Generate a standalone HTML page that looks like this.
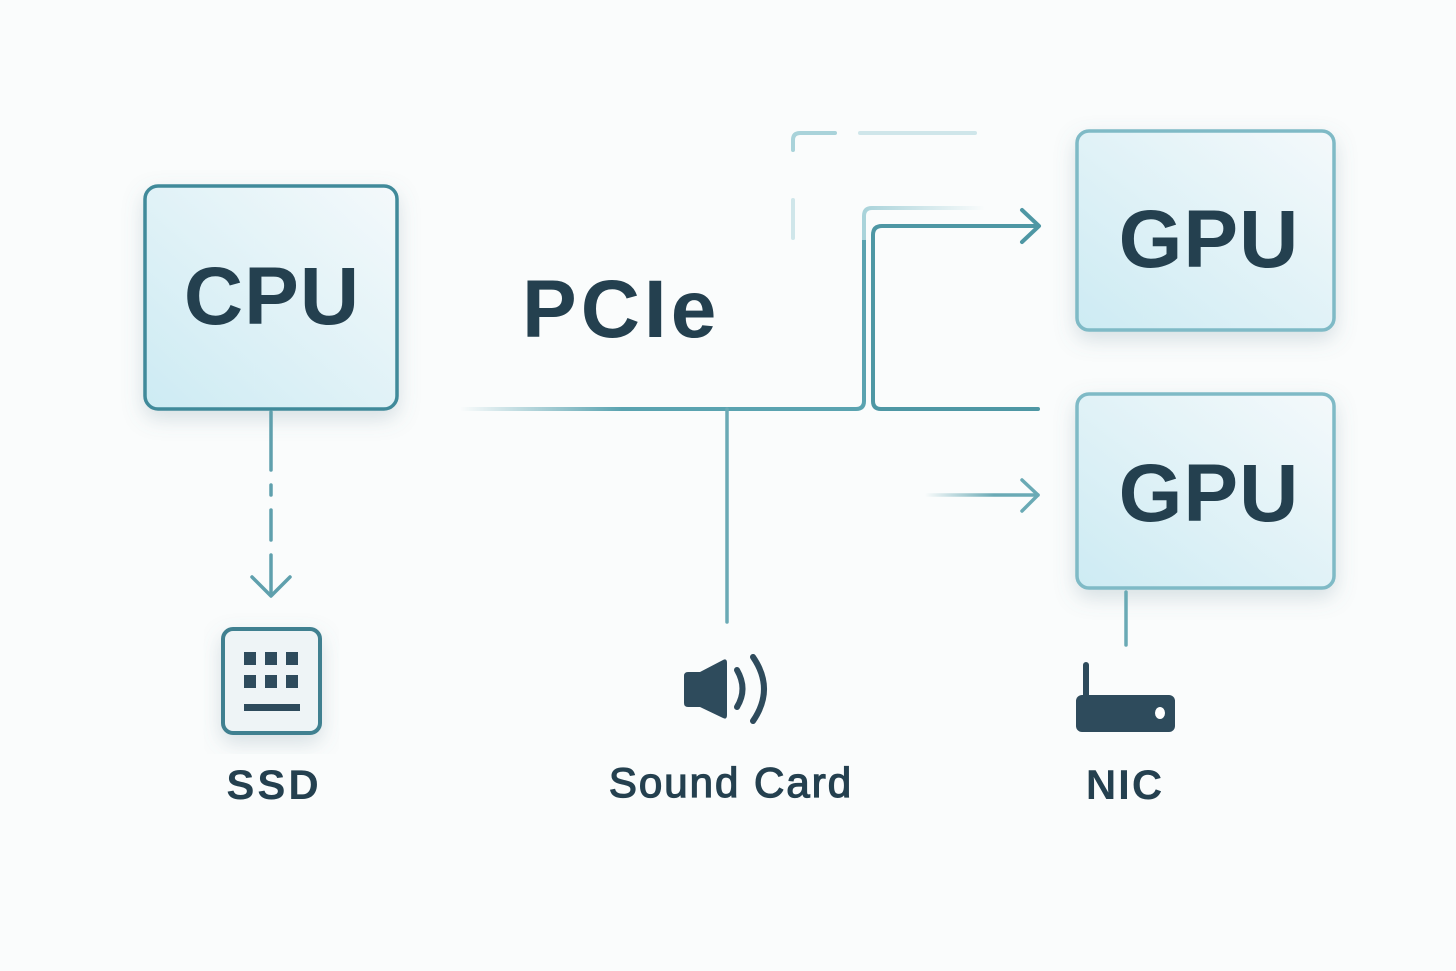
<!DOCTYPE html>
<html><head><meta charset="utf-8"><style>
html,body{margin:0;padding:0;background:#fafcfc;}
svg{display:block;}
text{font-family:"Liberation Sans",sans-serif;font-weight:bold;fill:#24404f;}
</style></head><body>
<svg width="1456" height="971" viewBox="0 0 1456 971" xmlns="http://www.w3.org/2000/svg">
<defs>
<linearGradient id="g" x1="1" y1="0" x2="0" y2="1">
<stop offset="0" stop-color="#f4f9fb"/><stop offset="1" stop-color="#cdebf3"/></linearGradient>
<linearGradient id="fade" gradientUnits="userSpaceOnUse" x1="460" y1="0" x2="1000" y2="0">
<stop offset="0" stop-color="#5aa3b0" stop-opacity="0"/><stop offset="0.3" stop-color="#5aa3b0"/><stop offset="1" stop-color="#5aa3b0"/></linearGradient>
<linearGradient id="fadeA" gradientUnits="userSpaceOnUse" x1="925" y1="0" x2="1040" y2="0">
<stop offset="0" stop-color="#6aaab5" stop-opacity="0"/><stop offset="0.6" stop-color="#6aaab5"/><stop offset="1" stop-color="#6aaab5"/></linearGradient>
<linearGradient id="fade2" gradientUnits="userSpaceOnUse" x1="864" y1="0" x2="985" y2="0">
<stop offset="0" stop-color="#a9d3da"/><stop offset="1" stop-color="#a9d3da" stop-opacity="0"/></linearGradient>
<filter id="sh" x="-20%" y="-20%" width="140%" height="140%"><feDropShadow dx="0" dy="8" stdDeviation="10" flood-color="#6a8a99" flood-opacity="0.25"/></filter>
</defs>
<rect width="1456" height="971" fill="#fafcfc"/>
<rect x="145" y="186" width="252" height="223" rx="13" fill="url(#g)" stroke="#3f8a9a" stroke-width="3.5" filter="url(#sh)"/>
<text x="272" y="324" font-size="82" text-anchor="middle" letter-spacing="1">CPU</text>
<rect x="1077" y="131" width="257" height="199" rx="12" fill="url(#g)" stroke="#7fbac6" stroke-width="3.5" filter="url(#sh)"/>
<text x="1209" y="267" font-size="82" text-anchor="middle" letter-spacing="1">GPU</text>
<rect x="1077" y="394" width="257" height="194" rx="12" fill="url(#g)" stroke="#7fbac6" stroke-width="3.5" filter="url(#sh)"/>
<text x="1209" y="521" font-size="82" text-anchor="middle" letter-spacing="1">GPU</text>
<text x="522" y="337" font-size="82" letter-spacing="4">PCIe</text>
<path d="M460 409 H856 Q864 409 864 401 V240" fill="none" stroke="url(#fade)" stroke-width="4" stroke-linecap="round"/>
<path d="M864 240 V216 Q864 208 872 208 H985" fill="none" stroke="url(#fade2)" stroke-width="4"/>
<path d="M1038 409 H881 Q873 409 873 401 V235 Q873 226 882 226 H1038 M1022 210 L1039 226 L1022 242" fill="none" stroke="#4e97a4" stroke-width="4" stroke-linecap="round" stroke-linejoin="round"/>
<path d="M727 409 V622" stroke="#6aaab5" stroke-width="3.5" stroke-linecap="round"/>
<path d="M793 150 V140 Q793 133 800 133 H835" fill="none" stroke="#a9d3da" stroke-width="4" stroke-linecap="round"/>
<path d="M860 133 H975" stroke="#cfe6ea" stroke-width="4" stroke-linecap="round"/>
<path d="M793 200 V238" stroke="#cfe6ea" stroke-width="4" stroke-linecap="round"/>
<path d="M925 495 H1038" stroke="url(#fadeA)" stroke-width="3.5" stroke-linecap="round"/>
<path d="M1022 480 L1038 495 L1022 511" fill="none" stroke="#6aaab5" stroke-width="3.5" stroke-linecap="round" stroke-linejoin="round"/>
<path d="M271 412 V470 M271 485 V495 M271 510 V540 M271 555 V595" stroke="#5fa0ad" stroke-width="3.5" stroke-linecap="round"/>
<path d="M252 577 L271 596 L290 577" fill="none" stroke="#5fa0ad" stroke-width="3.5" stroke-linecap="round" stroke-linejoin="round"/>
<rect x="223" y="629" width="97" height="104" rx="10" fill="#eef4f6" stroke="#3f8090" stroke-width="4" filter="url(#sh)"/>
<g fill="#2e4b5c">
<rect x="244" y="652" width="12" height="13"/><rect x="265" y="652" width="12" height="13"/><rect x="286" y="652" width="12" height="13"/>
<rect x="244" y="675" width="12" height="13"/><rect x="265" y="675" width="12" height="13"/><rect x="286" y="675" width="12" height="13"/>
<rect x="244" y="704" width="56" height="7"/>
</g>
<text x="274" y="799" font-size="42" text-anchor="middle" letter-spacing="3">SSD</text>
<path d="M688 672 H700 L723 660 Q727 658 727 663 V715 Q727 720 723 718 L700 707 H688 Q684 707 684 703 V676 Q684 672 688 672Z" fill="#2e4b5c"/>
<path d="M737 670 Q748 689 737 707" fill="none" stroke="#2e4b5c" stroke-width="6" stroke-linecap="round"/>
<path d="M753 657 Q775 689 753 721" fill="none" stroke="#2e4b5c" stroke-width="6" stroke-linecap="round"/>
<text x="731" y="797" font-size="42" text-anchor="middle" letter-spacing="2" style="font-weight:normal;stroke:#24404f;stroke-width:1.3">Sound Card</text>
<path d="M1126 592 V645" stroke="#6aaab5" stroke-width="3.5" stroke-linecap="round"/>
<rect x="1083" y="662" width="6" height="38" rx="3" fill="#2e4b5c"/>
<rect x="1076" y="695" width="99" height="37" rx="6" fill="#2e4b5c"/>
<ellipse cx="1160" cy="713" rx="5" ry="6" fill="#fff"/>
<text x="1125" y="799" font-size="42" text-anchor="middle" letter-spacing="2">NIC</text>
</svg>
</body></html>
